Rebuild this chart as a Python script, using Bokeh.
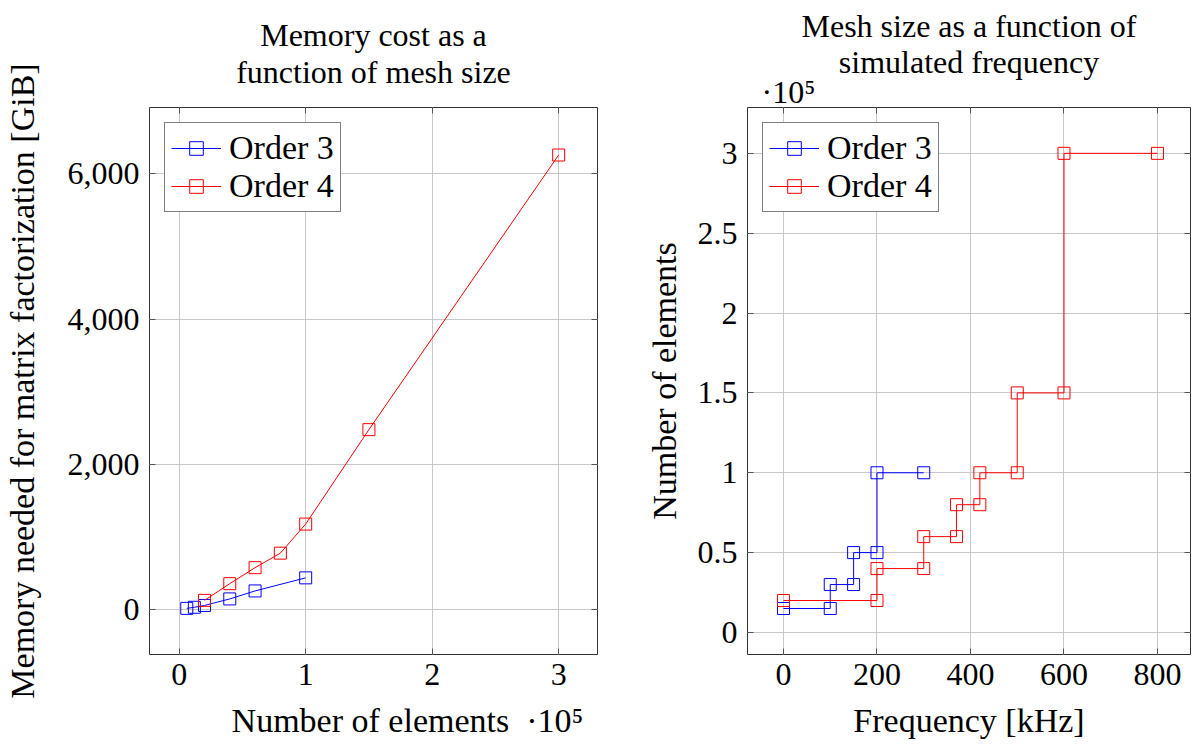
from bokeh.plotting import figure
from bokeh.layouts import row
from bokeh.models import Range1d, FixedTicker, Legend, LegendItem, Title, LinearAxis
from bokeh.embed import file_html
from bokeh.resources import INLINE

FONT = "Liberation Serif"
BLUE = "#0000ff"
RED = "#ff0000"

# ---- Left chart data: memory cost vs mesh size ----
mem_o3_elements = [6000, 12000, 20000, 40000, 60000, 100000]
mem_o3_gib = [20, 35, 60, 150, 260, 440]
mem_o4_elements = [20000, 40000, 60000, 80000, 100000, 150000, 300000]
mem_o4_gib = [130, 360, 580, 780, 1180, 2480, 6260]
left_xticks = [0, 100000, 200000, 300000]
left_xtick_labels = ["0", "1", "2", "3"]
left_yticks = [0, 2000, 4000, 6000]
left_ytick_labels = ["0", "2,000", "4,000", "6,000"]

# ---- Right chart data: mesh size vs frequency (step vertices) ----
freq_o3_khz = [0, 100, 100, 150, 150, 200, 200, 300]
mesh_o3 = [15000, 15000, 30000, 30000, 50000, 50000, 100000, 100000]
freq_o4_khz = [0, 200, 200, 300, 300, 370, 370, 420, 420, 500, 500, 600, 600, 800]
mesh_o4 = [20000, 20000, 40000, 40000, 60000, 60000, 80000, 80000,
           100000, 100000, 150000, 150000, 300000, 300000]
right_xticks = [0, 200, 400, 600, 800]
right_yticks = [0, 50000, 100000, 150000, 200000, 250000, 300000]
right_ytick_labels = ["0", "0.5", "1", "1.5", "2", "2.5", "3"]

NB = "\u00a0"


def style(p):
    p.outline_line_color = "#333333"
    p.outline_line_width = 1
    p.background_fill_color = "white"
    p.border_fill_color = "white"
    for ax in p.axis:
        ax.axis_line_color = None
        ax.major_tick_in = 6
        ax.major_tick_out = 0
        ax.major_tick_line_color = "#555555"
        ax.minor_tick_line_color = None
        ax.major_label_text_font = FONT
        ax.major_label_text_font_size = "32px"
        ax.major_label_text_color = "black"
        ax.axis_label_text_font = FONT
        ax.axis_label_text_font_size = "34px"
        ax.axis_label_text_font_style = "normal"
        ax.axis_label_text_color = "black"
    p.grid.grid_line_color = "#c8c8c8"
    p.grid.grid_line_width = 1


def mirror_ticks(p, xticks, yticks):
    # inward tick marks on the top and right edges, without labels
    for side, ticks in (("above", xticks), ("right", yticks)):
        ax = LinearAxis(ticker=FixedTicker(ticks=ticks), axis_line_color=None,
                        major_tick_in=6, major_tick_out=0,
                        major_tick_line_color="#555555",
                        minor_tick_line_color=None, major_label_standoff=0,
                        major_label_text_font_size="0px",
                        major_label_overrides={t: "" for t in ticks})
        p.add_layout(ax, side)


def series(p, xs, ys, color):
    ln = p.line(xs, ys, line_color=color, line_width=1)
    sc = p.scatter(xs, ys, marker="square", size=12, fill_color=None,
                   line_color=color, line_width=1)
    return [ln, sc]


def add_legend(p, r3, r4):
    lg = Legend(items=[LegendItem(label="Order 3", renderers=r3),
                       LegendItem(label="Order 4", renderers=r4)],
                location="top_left", margin=15, padding=6, spacing=0,
                label_height=34, glyph_height=34, glyph_width=50,
                label_standoff=8, label_text_font=FONT,
                label_text_font_size="34px", label_text_color="black",
                border_line_color="black", border_line_width=1,
                background_fill_alpha=1.0)
    p.add_layout(lg)


def title(text, standoff, align="center", offset=0, size="32px"):
    kw = dict(text=text, align=align, offset=offset, vertical_align="bottom",
              text_font=FONT, text_font_size=size, text_font_style="normal",
              text_color="black")
    try:
        return Title(standoff=standoff, **kw)
    except Exception:
        return Title(standoff=max(standoff, 0), **kw)


# ---- Left figure ----
p1 = figure(width=600, height=744, output_backend="svg", toolbar_location=None,
            x_range=Range1d(-23460, 330700), y_range=Range1d(-615, 6914),
            min_border_left=148, min_border_right=3, min_border_top=107,
            min_border_bottom=90)
style(p1)
p1.xaxis.ticker = FixedTicker(ticks=left_xticks)
p1.xaxis.major_label_overrides = dict(zip(left_xticks, left_xtick_labels))
p1.yaxis.ticker = FixedTicker(ticks=left_yticks)
p1.yaxis.major_label_overrides = dict(zip(left_yticks, left_ytick_labels))
p1.xaxis.axis_label = NB * 8 + "Number of elements" + NB * 2 + "\u00b710\u2075"
p1.yaxis.axis_label = "Memory needed for matrix factorization [GiB]"
p1.xaxis.major_label_standoff = 9
p1.yaxis.major_label_standoff = 10
p1.yaxis.axis_label_standoff = 24
p1.xaxis.axis_label_standoff = 14
mirror_ticks(p1, left_xticks, left_yticks)
a3 = series(p1, mem_o3_elements, mem_o3_gib, BLUE)
a4 = series(p1, mem_o4_elements, mem_o4_gib, RED)
add_legend(p1, a3, a4)
p1.add_layout(title("function of mesh size", 36), "above")
p1.add_layout(title("Memory cost as a", -38), "above")

# ---- Right figure ----
p2 = figure(width=592, height=744, output_backend="svg", toolbar_location=None,
            x_range=Range1d(-77, 870.6), y_range=Range1d(-13800, 328700),
            min_border_left=147, min_border_right=2, min_border_top=107,
            min_border_bottom=90)
style(p2)
p2.xaxis.ticker = FixedTicker(ticks=right_xticks)
p2.yaxis.ticker = FixedTicker(ticks=right_yticks)
p2.yaxis.major_label_overrides = dict(zip(right_yticks, right_ytick_labels))
p2.xaxis.axis_label = "Frequency [kHz]"
p2.yaxis.axis_label = "Number of elements"
p2.xaxis.major_label_standoff = 9
p2.yaxis.major_label_standoff = 10
p2.yaxis.axis_label_standoff = 12
p2.xaxis.axis_label_standoff = 14
mirror_ticks(p2, right_xticks, right_yticks)
b3 = series(p2, freq_o3_khz, mesh_o3, BLUE)
b4 = series(p2, freq_o4_khz, mesh_o4, RED)
add_legend(p2, b3, b4)
p2.add_layout(title("\u00b710\u2075", -4, align="left", offset=14), "above")
p2.add_layout(title("simulated frequency", -12), "above")
p2.add_layout(title("Mesh size as a function of", 8), "above")

layout = row(p1, p2)
open("out.html", "w").write(file_html(layout, INLINE))
